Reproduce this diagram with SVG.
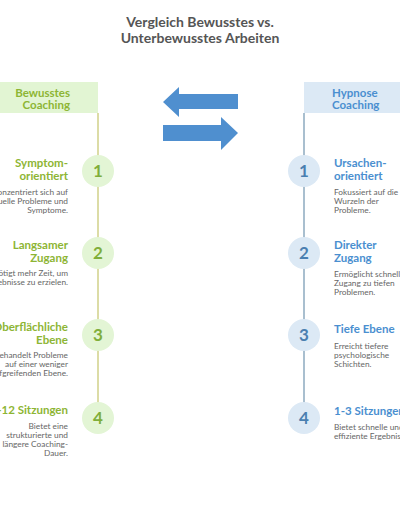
<svg xmlns="http://www.w3.org/2000/svg" width="400" height="516" viewBox="0 0 400 516">
<style>
.title{font-family:Lato,"Liberation Sans",sans-serif;font-weight:bold;font-size:14px;fill:#555;text-anchor:middle}
.hg{font-family:Lato,"Liberation Sans",sans-serif;font-weight:bold;font-size:11.5px;fill:#8db534}
.hb{font-family:Lato,"Liberation Sans",sans-serif;font-weight:bold;font-size:11.5px;fill:#4a8fd0}
.dg{font-family:Lato,"Liberation Sans",sans-serif;font-size:8.3px;fill:#666}
.r{text-anchor:end}
.cg{fill:#e3f5d5}
.cb{fill:#dce9f5}
.ng{font-family:Lato,"Liberation Sans",sans-serif;font-weight:bold;font-size:17px;fill:#7fae3a;text-anchor:middle}
.nb{font-family:Lato,"Liberation Sans",sans-serif;font-weight:bold;font-size:17px;fill:#4a7fb0;text-anchor:middle}
.arrow{fill:#4f8fcf}
</style>
<rect width="400" height="516" fill="#ffffff"/>
<g id="title">
<text class="title" x="200" y="27">Vergleich Bewusstes vs.</text>
<text class="title" x="200" y="43">Unterbewusstes Arbeiten</text>
</g>
<g id="connectors">
<line x1="98" y1="113" x2="98" y2="418" stroke="#dcdca6" stroke-width="2"/>
<line x1="304" y1="113" x2="304" y2="418" stroke="#a9bfcf" stroke-width="2"/>
<polygon class="arrow" points="163,102 179,87 179,94 238,94 238,109 179,109 179,117"/>
<polygon class="arrow" points="238,133 221,117 221,125 163,125 163,141 221,141 221,150"/>
</g>
<g id="header-left">
<rect x="0" y="82" width="98" height="31" fill="#e2f5d3"/>
<text class="hg r" x="70" y="97" font-size="9.5">Bewusstes</text>
<text class="hg r" x="70" y="109" font-size="9.5">Coaching</text>
</g>
<g id="header-right">
<rect x="304" y="82" width="96" height="31" fill="#dce9f5"/>
<text class="hb" x="332" y="97" font-size="9.5">Hypnose</text>
<text class="hb" x="332" y="109" font-size="9.5">Coaching</text>
</g>
<g id="left-1">
<circle class="cg" cx="98" cy="171" r="16"/>
<text class="ng" x="98" y="177">1</text>
<text class="hg r" x="68" y="167">Symptom-</text>
<text class="hg r" x="68" y="180">orientiert</text>
<text class="dg r" x="68" y="195">Konzentriert sich auf</text>
<text class="dg r" x="68" y="204">aktuelle Probleme und</text>
<text class="dg r" x="68" y="213">Symptome.</text>
</g>
<g id="left-2">
<circle class="cg" cx="98" cy="253" r="16"/>
<text class="ng" x="98" y="259">2</text>
<text class="hg r" x="68" y="249">Langsamer</text>
<text class="hg r" x="68" y="262">Zugang</text>
<text class="dg r" x="68" y="276">Benötigt mehr Zeit, um</text>
<text class="dg r" x="68" y="285">Ergebnisse zu erzielen.</text>
</g>
<g id="left-3">
<circle class="cg" cx="98" cy="335" r="16"/>
<text class="ng" x="98" y="341">3</text>
<text class="hg r" x="68" y="331">Oberflächliche</text>
<text class="hg r" x="68" y="344">Ebene</text>
<text class="dg r" x="68" y="358">Behandelt Probleme</text>
<text class="dg r" x="68" y="367">auf einer weniger</text>
<text class="dg r" x="68" y="376">tiefgreifenden Ebene.</text>
</g>
<g id="left-4">
<circle class="cg" cx="98" cy="418" r="16"/>
<text class="ng" x="98" y="424">4</text>
<text class="hg r" x="68" y="414">4-12 Sitzungen</text>
<text class="dg r" x="68" y="429">Bietet eine</text>
<text class="dg r" x="68" y="438">strukturierte und</text>
<text class="dg r" x="68" y="447">längere Coaching-</text>
<text class="dg r" x="68" y="456">Dauer.</text>
</g>
<g id="right-1">
<circle class="cb" cx="304" cy="171" r="16"/>
<text class="nb" x="304" y="177">1</text>
<text class="hb" x="334" y="167">Ursachen-</text>
<text class="hb" x="334" y="180">orientiert</text>
<text class="dg" x="334" y="195">Fokussiert auf die</text>
<text class="dg" x="334" y="204">Wurzeln der</text>
<text class="dg" x="334" y="213">Probleme.</text>
</g>
<g id="right-2">
<circle class="cb" cx="304" cy="253" r="16"/>
<text class="nb" x="304" y="259">2</text>
<text class="hb" x="334" y="249">Direkter</text>
<text class="hb" x="334" y="262">Zugang</text>
<text class="dg" x="334" y="277">Ermöglicht schnellen</text>
<text class="dg" x="334" y="286">Zugang zu tiefen</text>
<text class="dg" x="334" y="295">Problemen.</text>
</g>
<g id="right-3">
<circle class="cb" cx="304" cy="335" r="16"/>
<text class="nb" x="304" y="341">3</text>
<text class="hb" x="334" y="333">Tiefe Ebene</text>
<text class="dg" x="334" y="349">Erreicht tiefere</text>
<text class="dg" x="334" y="358">psychologische</text>
<text class="dg" x="334" y="367">Schichten.</text>
</g>
<g id="right-4">
<circle class="cb" cx="304" cy="418" r="16"/>
<text class="nb" x="304" y="424">4</text>
<text class="hb" x="334" y="415">1-3 Sitzungen</text>
<text class="dg" x="334" y="430">Bietet schnelle und</text>
<text class="dg" x="334" y="439">effiziente Ergebnisse.</text>
</g>
</svg>
